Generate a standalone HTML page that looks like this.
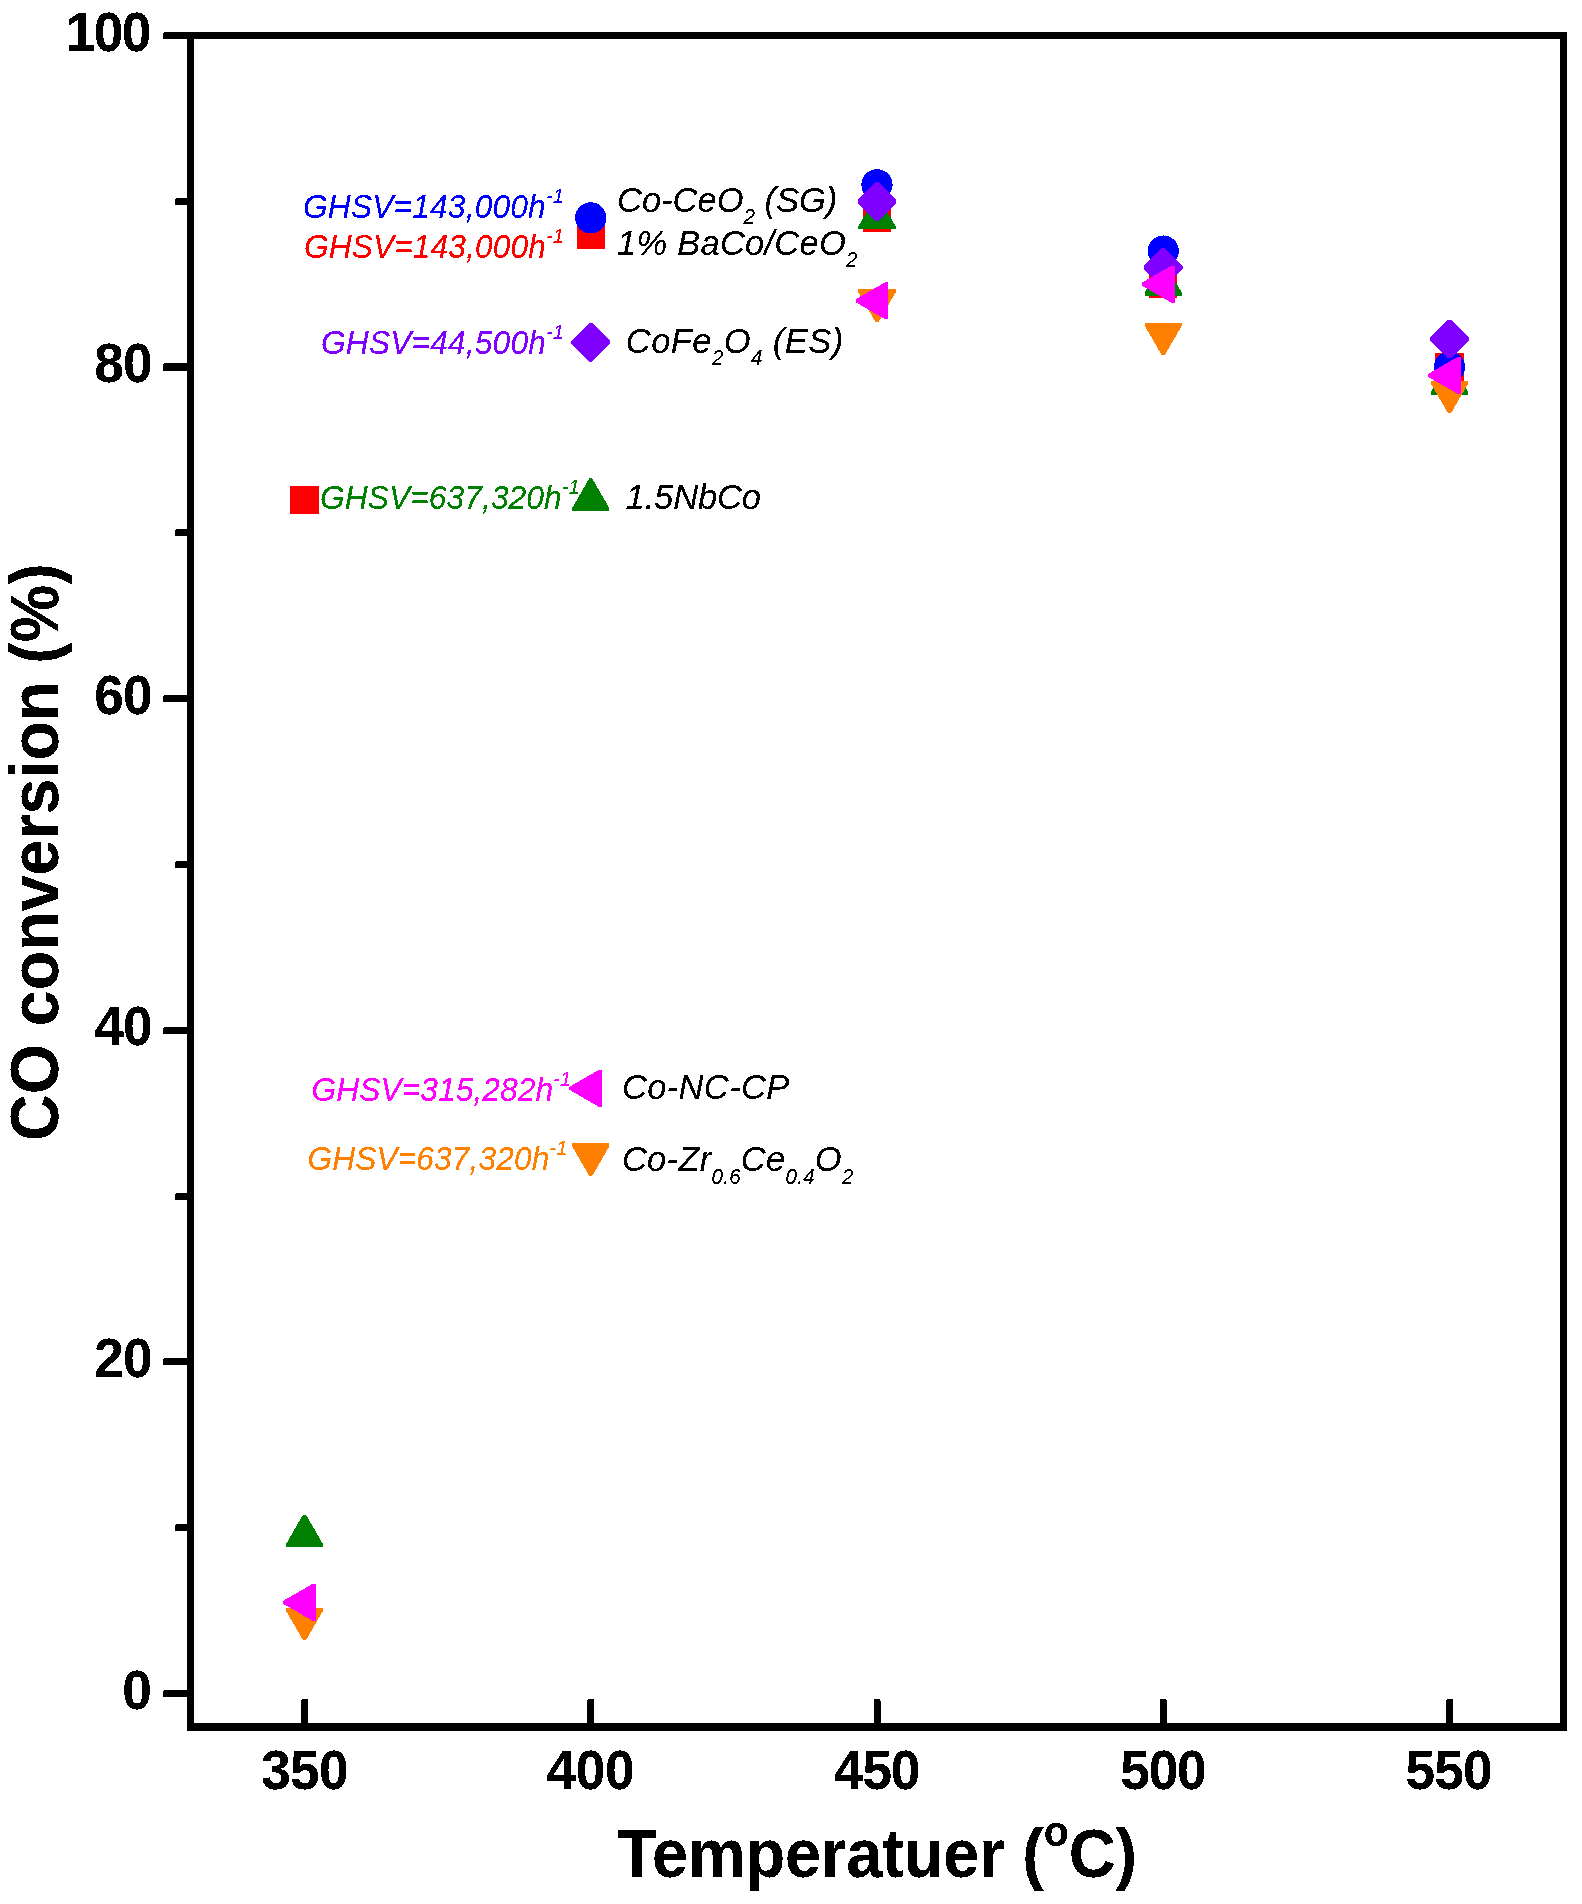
<!DOCTYPE html>
<html lang="en"><head><meta charset="utf-8"><title>CO conversion vs Temperature</title>
<style>
html,body{margin:0;padding:0;background:#fff;}
svg{display:block;}
text{font-family:"Liberation Sans",sans-serif;}
.tick{font-weight:bold;font-size:56px;fill:#000;}
.title{font-weight:bold;fill:#000;}
.leg{font-style:italic;font-size:31.7px;}
.lab{font-style:italic;font-size:34.5px;fill:#000;}
.ax{stroke:#000;stroke-width:7;fill:none;}
.tk{stroke:#000;stroke-width:7;stroke-linecap:round;fill:none;}
</style></head><body>
<svg width="1582" height="1904" viewBox="0 0 1582 1904">
<defs><filter id="hard" x="0" y="0" width="1582" height="1904" filterUnits="userSpaceOnUse" color-interpolation-filters="sRGB"><feComponentTransfer><feFuncA type="discrete" tableValues="0 0 1 1 1"/></feComponentTransfer></filter></defs>
<rect x="0" y="0" width="1582" height="1904" fill="#fff"/>

<g id="axes" shape-rendering="crispEdges">
<rect x="187" y="32" width="1380" height="7" fill="#000"/>
<rect x="187" y="1723" width="1380" height="8" fill="#000"/>
<rect x="187" y="32" width="7" height="1699" fill="#000"/>
<rect x="1560" y="32" width="7" height="1699" fill="#000"/>
<rect x="163.0" y="32.00" width="27.0" height="7" rx="2" ry="2" fill="#000"/>
<rect x="175.0" y="198.00" width="15.0" height="7" rx="2" ry="2" fill="#000"/>
<rect x="163.0" y="363.00" width="27.0" height="8" rx="2" ry="2" fill="#000"/>
<rect x="175.0" y="529.00" width="15.0" height="7" rx="2" ry="2" fill="#000"/>
<rect x="163.0" y="695.00" width="27.0" height="7" rx="2" ry="2" fill="#000"/>
<rect x="175.0" y="861.00" width="15.0" height="7" rx="2" ry="2" fill="#000"/>
<rect x="163.0" y="1027.00" width="27.0" height="7" rx="2" ry="2" fill="#000"/>
<rect x="175.0" y="1193.00" width="15.0" height="7" rx="2" ry="2" fill="#000"/>
<rect x="163.0" y="1358.00" width="27.0" height="7" rx="2" ry="2" fill="#000"/>
<rect x="175.0" y="1524.00" width="15.0" height="7" rx="2" ry="2" fill="#000"/>
<rect x="163.0" y="1690.00" width="27.0" height="7" rx="2" ry="2" fill="#000"/>
<rect x="301.00" y="1699" width="7" height="27" rx="2" ry="2" fill="#000"/>
<rect x="587.25" y="1699" width="7" height="27" rx="2" ry="2" fill="#000"/>
<rect x="873.50" y="1699" width="7" height="27" rx="2" ry="2" fill="#000"/>
<rect x="1159.75" y="1699" width="7" height="27" rx="2" ry="2" fill="#000"/>
<rect x="1446.00" y="1699" width="7" height="27" rx="2" ry="2" fill="#000"/>
</g>
<g id="labels" filter="url(#hard)">
<text class="tick" text-anchor="end" transform="translate(151.90,1708.5) scale(0.95,1)" letter-spacing="0.000">0</text>
<text class="tick" text-anchor="end" transform="translate(151.90,1376.9) scale(0.95,1)" letter-spacing="-0.800">20</text>
<text class="tick" text-anchor="end" transform="translate(151.90,1045.3) scale(0.95,1)" letter-spacing="-0.800">40</text>
<text class="tick" text-anchor="end" transform="translate(151.90,713.7) scale(0.95,1)" letter-spacing="-0.800">60</text>
<text class="tick" text-anchor="end" transform="translate(151.90,382.1) scale(0.95,1)" letter-spacing="-0.800">80</text>
<text class="tick" text-anchor="end" transform="translate(149.90,50.5) scale(0.95,1)" letter-spacing="-1.600">100</text>
<text class="tick" text-anchor="middle" transform="translate(304.50,1788.9) scale(0.95,1)" letter-spacing="-0.800">350</text>
<text class="tick" text-anchor="middle" transform="translate(590.35,1788.9) scale(0.95,1)" letter-spacing="-0.400">400</text>
<text class="tick" text-anchor="middle" transform="translate(876.60,1788.9) scale(0.95,1)" letter-spacing="-1.200">450</text>
<text class="tick" text-anchor="middle" transform="translate(1162.85,1788.9) scale(0.95,1)" letter-spacing="-1.200">500</text>
<text class="tick" text-anchor="middle" transform="translate(1448.70,1788.9) scale(0.95,1)" letter-spacing="-0.800">550</text>
<text class="title" font-size="64.9" transform="translate(617.30,1876.8) scale(1,1.06)" letter-spacing="-0.107">Temperatuer (<tspan font-size="41" dy="-29.5">o</tspan><tspan dy="29.5">C)</tspan></text>
<text class="title" font-size="64.6" transform="translate(57.7,1141.00) rotate(-90) scale(1,1.06)" letter-spacing="0.000">CO conversion (%)</text>
<text class="leg" fill="#0000FF" transform="translate(303.00,217.7) scale(1,1.04)" letter-spacing="0.186">GHSV=143,000h<tspan font-size="20" dy="-14.4">-1</tspan></text>
<text class="leg" fill="#FF0000" transform="translate(303.90,258.2) scale(1,1.04)" letter-spacing="0.129">GHSV=143,000h<tspan font-size="20" dy="-14.4">-1</tspan></text>
<text class="leg" fill="#8000FF" transform="translate(321.00,354.2) scale(1,1.04)" letter-spacing="0.177">GHSV=44,500h<tspan font-size="20" dy="-14.4">-1</tspan></text>
<text class="leg" fill="#008000" transform="translate(320.00,509.3) scale(1,1.04)" letter-spacing="0.100">GHSV=637,320h<tspan font-size="20" dy="-14.4">-1</tspan></text>
<text class="leg" fill="#FF00FF" transform="translate(311.45,1101.2) scale(1,1.04)" letter-spacing="0.100">GHSV=315,282h<tspan font-size="20" dy="-14.4">-1</tspan></text>
<text class="leg" fill="#FF8000" transform="translate(307.40,1169.9) scale(1,1.04)" letter-spacing="0.129">GHSV=637,320h<tspan font-size="20" dy="-14.4">-1</tspan></text>
<text class="lab" transform="translate(617.00,211.7) scale(1,1.04)" letter-spacing="0.000">Co-CeO<tspan font-size="20.5" dy="11.6">2</tspan><tspan dy="-11.6"> (SG)</tspan></text>
<text class="lab" transform="translate(617.00,254.7) scale(1,1.04)" letter-spacing="0.253">1% BaCo/CeO<tspan font-size="20.5" dy="11.6">2</tspan></text>
<text class="lab" transform="translate(625.80,352.8) scale(1,1.04)" letter-spacing="0.436">CoFe<tspan font-size="20.5" dy="11.6">2</tspan><tspan dy="-11.6">O</tspan><tspan font-size="20.5" dy="11.6">4</tspan><tspan dy="-11.6"> (ES)</tspan></text>
<text class="lab" transform="translate(625.60,508.9) scale(1,1.04)" letter-spacing="-0.133">1.5NbCo</text>
<text class="lab" transform="translate(621.90,1098.7) scale(1,1.04)" letter-spacing="0.371">Co-NC-CP</text>
<text class="lab" transform="translate(621.90,1171.5) scale(1,1.04)" letter-spacing="0.286">Co-Zr<tspan font-size="20.5" dy="11.6">0.6</tspan><tspan dy="-11.6">Ce</tspan><tspan font-size="20.5" dy="11.6">0.4</tspan><tspan dy="-11.6">O</tspan><tspan font-size="20.5" dy="11.6">2</tspan></text>
</g>
<g id="markers" shape-rendering="crispEdges">
<rect x="290.40" y="485.64" width="28.2" height="28.2" fill="#FF0000"/>
<rect x="576.65" y="220.36" width="28.2" height="28.2" fill="#FF0000"/>
<rect x="862.90" y="203.78" width="28.2" height="28.2" fill="#FF0000"/>
<rect x="1149.15" y="270.10" width="28.2" height="28.2" fill="#FF0000"/>
<rect x="1435.40" y="353.00" width="28.2" height="28.2" fill="#FF0000"/>
<circle cx="590.75" cy="217.88" r="15.6" fill="#0000FF"/>
<circle cx="877.00" cy="184.72" r="15.6" fill="#0000FF"/>
<circle cx="1163.25" cy="251.04" r="15.6" fill="#0000FF"/>
<circle cx="1449.50" cy="367.10" r="15.6" fill="#0000FF"/>
<polygon points="303.00,1514.69 306.00,1514.69 323.05,1544.29 323.05,1547.29 285.95,1547.29 285.95,1544.29" fill="#008000"/>
<polygon points="589.25,478.44 592.25,478.44 609.30,508.04 609.30,511.04 572.20,511.04 572.20,508.04" fill="#008000"/>
<polygon points="875.50,196.58 878.50,196.58 895.55,226.18 895.55,229.18 858.45,229.18 858.45,226.18" fill="#008000"/>
<polygon points="1161.75,262.90 1164.75,262.90 1181.80,292.50 1181.80,295.50 1144.70,295.50 1144.70,292.50" fill="#008000"/>
<polygon points="1448.00,362.38 1451.00,362.38 1468.05,391.98 1468.05,394.98 1430.95,394.98 1430.95,391.98" fill="#008000"/>
<polygon points="303.00,1640.19 306.00,1640.19 323.05,1610.59 323.05,1607.59 285.95,1607.59 285.95,1610.59" fill="#FF8000"/>
<polygon points="589.25,1175.95 592.25,1175.95 609.30,1146.35 609.30,1143.35 572.20,1143.35 572.20,1146.35" fill="#FF8000"/>
<polygon points="875.50,322.08 878.50,322.08 895.55,292.48 895.55,289.48 858.45,289.48 858.45,292.48" fill="#FF8000"/>
<polygon points="1161.75,355.24 1164.75,355.24 1181.80,325.64 1181.80,322.64 1144.70,322.64 1144.70,325.64" fill="#FF8000"/>
<polygon points="1448.00,413.27 1451.00,413.27 1468.05,383.67 1468.05,380.67 1430.95,380.67 1430.95,383.67" fill="#FF8000"/>
<polygon points="589.25,322.83 592.25,322.83 610.15,340.73 610.15,343.73 592.25,361.63 589.25,361.63 571.35,343.73 571.35,340.73" fill="#8000FF"/>
<polygon points="875.50,181.90 878.50,181.90 896.40,199.80 896.40,202.80 878.50,220.70 875.50,220.70 857.60,202.80 857.60,199.80" fill="#8000FF"/>
<polygon points="1161.75,248.22 1164.75,248.22 1182.65,266.12 1182.65,269.12 1164.75,287.02 1161.75,287.02 1143.85,269.12 1143.85,266.12" fill="#8000FF"/>
<polygon points="1448.00,319.51 1451.00,319.51 1468.90,337.41 1468.90,340.41 1451.00,358.31 1448.00,358.31 1430.10,340.41 1430.10,337.41" fill="#8000FF"/>
<polygon points="283.20,1600.81 283.20,1603.81 312.80,1620.86 315.80,1620.86 315.80,1583.76 312.80,1583.76" fill="#FF00FF"/>
<polygon points="569.45,1086.83 569.45,1089.83 599.05,1106.88 602.05,1106.88 602.05,1069.78 599.05,1069.78" fill="#FF00FF"/>
<polygon points="855.70,299.28 855.70,302.28 885.30,319.33 888.30,319.33 888.30,282.23 885.30,282.23" fill="#FF00FF"/>
<polygon points="1141.95,282.70 1141.95,285.70 1171.55,302.75 1174.55,302.75 1174.55,265.65 1171.55,265.65" fill="#FF00FF"/>
<polygon points="1428.20,373.89 1428.20,376.89 1457.80,393.94 1460.80,393.94 1460.80,356.84 1457.80,356.84" fill="#FF00FF"/>
</g>
</svg></body></html>
